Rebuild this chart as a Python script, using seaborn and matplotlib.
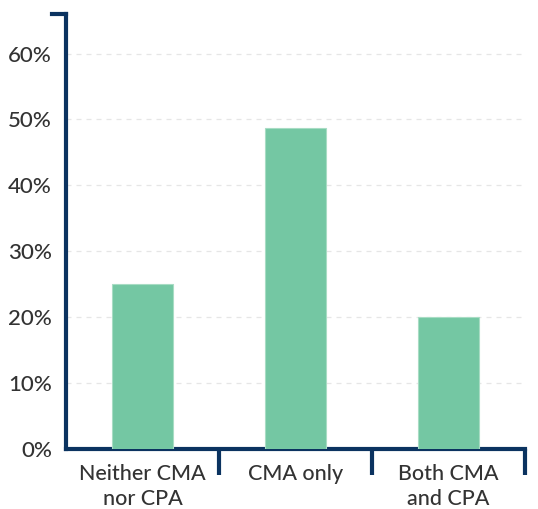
import pandas as pd
import matplotlib.pyplot as plt
import seaborn as sns
from matplotlib.ticker import FixedLocator, PercentFormatter

# data
categories = ["Neither CMA\nnor CPA", "CMA only", "Both CMA\nand CPA"]
shares = [25.0, 48.7, 20.0]
y_ticks = [0, 10, 20, 30, 40, 50, 60]

df = pd.DataFrame({"group": categories, "share": shares})

navy = "#0b3360"
bar_green = "#74c7a3"
text_grey = "#333333"

sns.set_theme(style="white")
plt.rcParams["font.family"] = ["Lato", "DejaVu Sans"]

fig = plt.figure(figsize=(5.38, 5.09), dpi=100)
ax = fig.add_axes([66 / 538, 60 / 509, (525 - 66) / 538, (449 - 14) / 509])

sns.barplot(data=df, x="group", y="share", color=bar_green, saturation=1,
            width=0.4, edgecolor="#a8dcc4", linewidth=0.8, ax=ax, zorder=3)

ax.set_xlim(-0.5, 2.5)
ax.set_ylim(0, 66)
ax.set_yticks(y_ticks)
ax.yaxis.set_major_formatter(PercentFormatter(decimals=0))

# dashed light grid
for v in y_ticks[1:]:
    ax.axhline(v, color="#e6e6e6", lw=0.9, ls=(0, (4, 4)), zorder=1)

# spines
for s in ["top", "right"]:
    ax.spines[s].set_visible(False)
for s in ["left", "bottom"]:
    ax.spines[s].set_color(navy)
    ax.spines[s].set_linewidth(3)
    ax.spines[s].set_capstyle("projecting")

# top cap of the y axis
ax.plot([-0.03, 0], [1, 1], transform=ax.transAxes, color=navy, lw=3,
        clip_on=False, solid_capstyle="projecting")

# category separators
ax.xaxis.set_minor_locator(FixedLocator([0.5, 1.5, 2.5]))
ax.tick_params(axis="x", which="minor", length=19, width=3, color=navy,
               direction="out", bottom=True)
ax.tick_params(axis="x", which="major", length=0, pad=11,
               labelsize=15.5, labelcolor=text_grey)
ax.tick_params(axis="y", length=0, pad=10, labelsize=16, labelcolor=text_grey)
for lbl in ax.get_xticklabels():
    lbl.set_linespacing(1.3)
    lbl.set_fontweight("medium")
for lbl in ax.get_yticklabels():
    lbl.set_fontweight("medium")

ax.set_xlabel("")
ax.set_ylabel("")

fig.savefig("out.png", dpi=100)
